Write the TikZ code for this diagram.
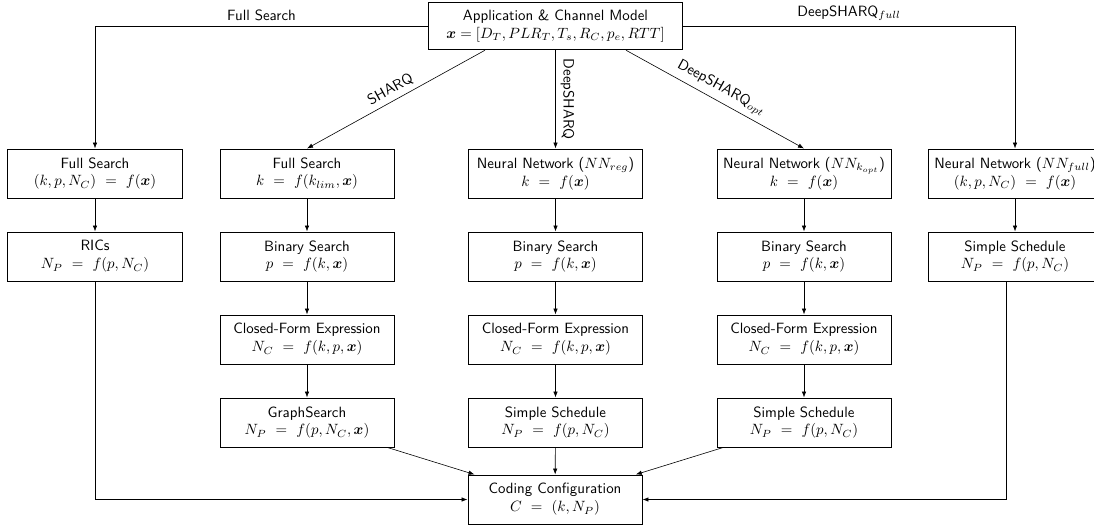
\documentclass[tikz,border=0pt]{standalone}
\usepackage{amsmath,bm}
\usetikzlibrary{arrows.meta}
\begin{document}
\begin{tikzpicture}[x=0.672pt,y=-0.672pt,
  box/.style={draw, line width=0.6pt, minimum width=117pt, minimum height=33pt,
    align=center, font=\sffamily, inner sep=2pt},
  link/.style={-{Latex[length=4pt,width=3pt]}, line width=0.4pt},
  lbl/.style={font=\sffamily}]
\useasboundingbox (0,0) rectangle (1094,525);

% input model
\node[box, minimum width=171pt, minimum height=32pt] (model) at (555.5,26)
  {Application \& Channel Model\\ $\bm{x} = [D_T, PLR_T, T_s, R_C, p_e, RTT]$};

% column 1: full search
\node[box] (fs1) at (95,173.5) {Full Search\\ $(k,p,N_C)\ =\ f(\bm{x})$};
\node[box] (ric) at (95,256.5) {RICs\\ $N_P\ =\ f(p,N_C)$};

% column 2: SHARQ
\node[box] (fs2) at (307,173.5) {Full Search\\ $k\ =\ f(k_{lim},\bm{x})$};
\node[box] (bs2) at (307,256.5) {Binary Search\\ $p\ =\ f(k,\bm{x})$};
\node[box] (cf2) at (307,339.5) {Closed-Form Expression\\ $N_C\ =\ f(k,p,\bm{x})$};
\node[box] (gs2) at (307,422.5) {GraphSearch\\ $N_P\ =\ f(p,N_C,\bm{x})$};

% column 3: DeepSHARQ
\node[box] (nn3) at (555.5,173.5) {Neural Network ($NN_{reg}$)\\ $k\ =\ f(\bm{x})$};
\node[box] (bs3) at (555.5,256.5) {Binary Search\\ $p\ =\ f(k,\bm{x})$};
\node[box] (cf3) at (555.5,339.5) {Closed-Form Expression\\ $N_C\ =\ f(k,p,\bm{x})$};
\node[box] (ss3) at (555.5,422.5) {Simple Schedule\\ $N_P\ =\ f(p,N_C)$};

% column 4: DeepSHARQ opt
\node[box] (nn4) at (804,173.5) {Neural Network ($NN_{k_{opt}}$)\\ $k\ =\ f(\bm{x})$};
\node[box] (bs4) at (804,256.5) {Binary Search\\ $p\ =\ f(k,\bm{x})$};
\node[box] (cf4) at (804,339.5) {Closed-Form Expression\\ $N_C\ =\ f(k,p,\bm{x})$};
\node[box] (ss4) at (804,422.5) {Simple Schedule\\ $N_P\ =\ f(p,N_C)$};

% column 5: DeepSHARQ full
\node[box] (nn5) at (1015,173.5) {Neural Network ($NN_{full}$)\\ $(k,p,N_C)\ =\ f(\bm{x})$};
\node[box] (ss5) at (1015,256.5) {Simple Schedule\\ $N_P\ =\ f(p,N_C)$};

% output
\node[box] (cc) at (555,499.5) {Coding Configuration\\ $C\ =\ (k,N_P)$};

% branches from the model
\draw[link] (model.west) -| node[lbl, pos=0.25, above] {Full Search} (fs1.north);
\draw[link] (model.east) -| node[lbl, pos=0.25, above] {DeepSHARQ$_{full}$} (nn5.north);
\draw[link] ([xshift=-47.4pt]model.south) -- node[lbl, sloped, above] {SHARQ} (fs2.north);
\draw[link] (model.south) -- node[lbl, sloped, above] {DeepSHARQ} (nn3.north);
\draw[link] ([xshift=47.4pt]model.south) -- node[lbl, sloped, above] {DeepSHARQ$_{opt}$} (nn4.north);

% chains
\draw[link] (fs1) -- (ric);
\draw[link] (fs2) -- (bs2);
\draw[link] (bs2) -- (cf2);
\draw[link] (cf2) -- (gs2);
\draw[link] (nn3) -- (bs3);
\draw[link] (bs3) -- (cf3);
\draw[link] (cf3) -- (ss3);
\draw[link] (nn4) -- (bs4);
\draw[link] (bs4) -- (cf4);
\draw[link] (cf4) -- (ss4);
\draw[link] (nn5) -- (ss5);

% into the coding configuration
\draw[link] (ric.south) |- (cc.west);
\draw[link] ([xshift=-6pt]ss5.south) |- (cc.east);
\draw[link] (gs2) -- (cc);
\draw[link] (ss3) -- (cc);
\draw[link] (ss4) -- (cc);
\end{tikzpicture}
\end{document}
